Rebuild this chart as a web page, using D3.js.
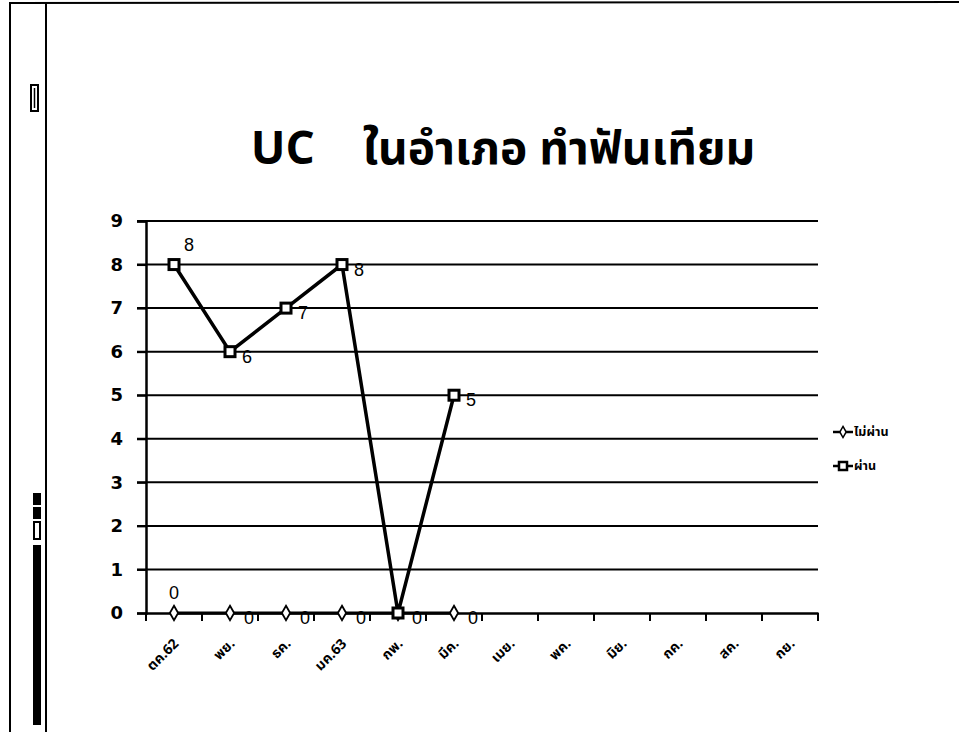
<!DOCTYPE html>
<html><head><meta charset="utf-8">
<script src="https://cdn.jsdelivr.net/npm/d3@7"></script>
<style>body{margin:0;background:#fff}svg{display:block}</style>
</head><body>
<script>
const months = ["ตค.62","พย.","ธค.","มค.63","กพ.","มีค.","เมย.","พค.","มิย.","กค.","สค.","กย."];
const failValues = [0,0,0,0,0,0];   // ไม่ผ่าน
const passValues = [8,6,7,8,0,5];   // ผ่าน
const yTicks = [0,1,2,3,4,5,6,7,8,9];
const seriesNames = ["ไม่ผ่าน","ผ่าน"];
const title = "UC    ในอำเภอ ทำฟันเทียม";

const W=959,H=732;
const svg=d3.select("body").append("svg").attr("width",W).attr("height",H);
const thai='"Noto Sans Thai","Noto Sans","DejaVu Sans",sans-serif';

// page frame (scan edges)
svg.append("line").attr("x1",10).attr("x2",959).attr("y1",3).attr("y2",2).attr("stroke","#000").attr("stroke-width",2);
svg.append("line").attr("x1",10).attr("x2",10).attr("y1",2).attr("y2",732).attr("stroke","#000").attr("stroke-width",2);
svg.append("line").attr("x1",46).attr("x2",46).attr("y1",2).attr("y2",732).attr("stroke","#000").attr("stroke-width",2);
svg.append("rect").attr("x",31).attr("y",85).attr("width",7).attr("height",26).attr("fill","none").attr("stroke","#000").attr("stroke-width",2);
svg.append("line").attr("x1",34.5).attr("x2",34.5).attr("y1",88).attr("y2",108).attr("stroke","#000").attr("stroke-width",1.5);
svg.append("rect").attr("x",33).attr("y",493).attr("width",8).attr("height",12).attr("fill","#000");
svg.append("rect").attr("x",33).attr("y",507).attr("width",8).attr("height",12).attr("fill","#000");
svg.append("rect").attr("x",34).attr("y",522).attr("width",6).attr("height",17).attr("fill","none").attr("stroke","#000").attr("stroke-width",2);
svg.append("rect").attr("x",33).attr("y",545).attr("width",8).attr("height",180).attr("fill","#000");

// title
svg.append("text").attr("x",503).attr("y",164).attr("text-anchor","middle")
  .style("white-space","pre")
  .attr("font-family",thai).attr("font-weight","bold").attr("font-size",46).text(title);

const x=d3.scaleBand().domain(months).range([146,818]);
const y=d3.scaleLinear().domain([0,9]).range([613,221]);
const cx=d=>x(d)+x.bandwidth()/2;

// gridlines
svg.append("g").selectAll("line").data(yTicks.filter(t=>t>0)).join("line")
  .attr("x1",137).attr("x2",818).attr("y1",d=>y(d)).attr("y2",d=>y(d))
  .attr("stroke","#000").attr("stroke-width",2);

// y axis
const ya=svg.append("g").attr("transform","translate(146,0)")
  .call(d3.axisLeft(y).tickValues(yTicks).tickSize(9).tickPadding(14).tickFormat(d3.format("d")));
ya.select(".domain").attr("stroke-width",2.5);
ya.selectAll(".tick line").attr("stroke-width",2);
ya.selectAll("text").attr("font-family","DejaVu Sans").attr("font-weight","bold").attr("font-size",18).attr("fill","#000");

// x axis
const xa=svg.append("g").attr("transform","translate(0,613)")
  .call(d3.axisBottom(x).tickSize(0).tickPadding(0));
xa.select(".domain").attr("stroke-width",2.5);
xa.selectAll(".tick text").attr("transform","translate(2,28) rotate(-45)")
  .attr("text-anchor","end").attr("dy","0.35em").attr("x",0).attr("y",0)
  .attr("font-family",thai).attr("font-weight","bold").attr("font-size",14).attr("fill","#000");
// boundary ticks
svg.append("g").selectAll("line").data(d3.range(months.length+1)).join("line")
  .attr("x1",i=>146+i*x.step()).attr("x2",i=>146+i*x.step())
  .attr("y1",613).attr("y2",621).attr("stroke","#000").attr("stroke-width",2);

const failData=failValues.map((v,i)=>({m:months[i],v,i}));
const passData=passValues.map((v,i)=>({m:months[i],v,i}));
const line=d3.line().x(d=>cx(d.m)).y(d=>y(d.v));

// fail series
svg.append("path").datum(failData).attr("d",line).attr("fill","none").attr("stroke","#000").attr("stroke-width",3);
const diamond=d3.symbol().type(d3.symbolDiamond).size(60);
svg.append("g").selectAll("path").data(failData).join("path")
  .attr("d",diamond).attr("transform",d=>`translate(${cx(d.m)},${y(d.v)})`)
  .attr("fill","#fff").attr("stroke","#000").attr("stroke-width",1.8);

// pass series
svg.append("path").datum(passData).attr("d",line).attr("fill","none").attr("stroke","#000").attr("stroke-width",3.5);
svg.append("g").selectAll("rect").data(passData).join("rect")
  .attr("x",d=>cx(d.m)-5).attr("y",d=>y(d.v)-5).attr("width",10).attr("height",10)
  .attr("fill","#fff").attr("stroke","#000").attr("stroke-width",3);

const lblFont='"Liberation Sans","DejaVu Sans",sans-serif';
// labels
svg.append("g").selectAll("text").data(failData).join("text")
  .attr("x",d=>d.i===0?cx(d.m):cx(d.m)+19).attr("y",d=>d.i===0?y(d.v)-14:y(d.v)+11)
  .attr("text-anchor","middle").attr("font-family",lblFont).attr("font-size",18).text(d=>d.v);
svg.append("g").selectAll("text").data(passData.filter(d=>d.v>0)).join("text")
  .attr("x",d=>d.i===0?cx(d.m)+15:cx(d.m)+17).attr("y",d=>d.i===0?y(d.v)-14:y(d.v)+11)
  .attr("text-anchor","middle").attr("font-family",lblFont).attr("font-size",18).text(d=>d.v);

// legend
const lg=svg.append("g").attr("transform","translate(833,432)");
lg.append("line").attr("x1",0).attr("x2",20).attr("y1",0).attr("y2",0).attr("stroke","#000").attr("stroke-width",2.5);
lg.append("path").attr("d",d3.symbol().type(d3.symbolDiamond).size(35)).attr("transform","translate(10,0)").attr("fill","#fff").attr("stroke","#000").attr("stroke-width",1.5);
lg.append("text").attr("x",21).attr("y",4).attr("font-family",thai).attr("font-weight","bold").attr("font-size",12.5).text(seriesNames[0]);
lg.append("line").attr("x1",0).attr("x2",20).attr("y1",34).attr("y2",34).attr("stroke","#000").attr("stroke-width",2.5);
lg.append("rect").attr("x",6).attr("y",30).attr("width",8).attr("height",8).attr("fill","#fff").attr("stroke","#000").attr("stroke-width",2.5);
lg.append("text").attr("x",21).attr("y",38).attr("font-family",thai).attr("font-weight","bold").attr("font-size",12.5).text(seriesNames[1]);
</script>
</body></html>
